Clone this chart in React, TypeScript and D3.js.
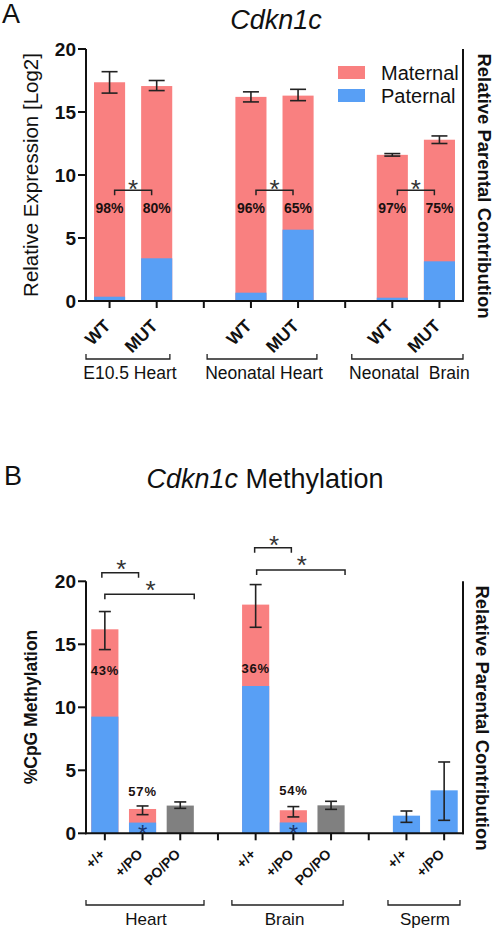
import React from "react";
import * as d3 from "d3";

// ---------- Panel A data ----------
const slotsA = ["WT-1", "MUT-1", "gap-1", "WT-2", "MUT-2", "gap-2", "WT-3", "MUT-3"];
const barSlotsA = ["WT-1", "MUT-1", "WT-2", "MUT-2", "WT-3", "MUT-3"];
const tickLabelsA = ["WT", "MUT", "WT", "MUT", "WT", "MUT"];
const totalA = [17.36, 17.06, 16.2, 16.3, 11.6, 12.8];
const paternalA = [0.34, 3.39, 0.66, 5.66, 0.26, 3.15];
const errHiA = [18.2, 17.5, 16.6, 16.8, 11.7, 13.1];
const errLoA = [16.5, 16.7, 15.8, 15.9, 11.5, 12.5];
const percentA = ["98%", "80%", "96%", "65%", "97%", "75%"];
const percentYA = [7.4, 7.4, 7.4, 7.4, 7.4, 7.4];
const groupsA = ["E10.5 Heart", "Neonatal Heart", "Neonatal  Brain"];
const groupSpanA: [number, number][] = [[-0.5, 1.28], [2.07, 4.4], [5.14, 7.5]];
const sigA = [
  { from: "WT-1", to: "MUT-1", level: 8.79 },
  { from: "WT-2", to: "MUT-2", level: 8.79 },
  { from: "WT-3", to: "MUT-3", level: 8.79 },
];
const yTicks = [0, 5, 10, 15, 20];
const legendItems = ["Maternal", "Paternal"];

// ---------- Panel B data ----------
const slotsB = ["H+/+", "H+/PO", "HPO/PO", "gap-1", "B+/+", "B+/PO", "BPO/PO", "gap-2", "S+/+", "S+/PO"];
const barSlotsB = ["H+/+", "H+/PO", "HPO/PO", "B+/+", "B+/PO", "BPO/PO", "S+/+", "S+/PO"];
const tickLabelsB = ["+/+", "+/PO", "PO/PO", "+/+", "+/PO", "PO/PO", "+/+", "+/PO"];
const barKindB = ["stack", "stack", "gray", "stack", "stack", "gray", "blue", "blue"];
const totalB = [16.19, 1.93, 2.2, 18.15, 1.83, 2.22, 1.4, 3.41];
const paternalB = [9.26, 0.85, 0, 11.69, 0.86, 0, 1.4, 3.41];
const errHiB = [17.6, 2.17, 2.49, 19.74, 2.12, 2.54, 1.77, 5.66];
const errLoB = [14.58, 1.48, 1.98, 16.35, 1.3, 1.9, 0.87, 1.03];
const percentB = [
  { slot: "H+/+", text: "43%", y: 12.96 },
  { slot: "H+/PO", text: "57%", y: 3.3 },
  { slot: "B+/+", text: "36%", y: 13.1 },
  { slot: "B+/PO", text: "54%", y: 3.38 },
];
const innerStarB = ["H+/PO", "B+/PO"];
const groupsB = ["Heart", "Brain", "Sperm"];
const groupSpanB: [number, number][] = [[-0.5, 2.63], [3.37, 6.32], [7.51, 9.42]];
const sigB = [
  { from: "H+/+", to: "H+/PO", level: 20.68, fromOff: -3, toOff: -4, star: 21.45 },
  { from: "H+/+", to: "HPO/PO", level: 18.97, fromOff: 0, toOff: 14, star: 19.79 },
  { from: "B+/+", to: "B+/PO", level: 22.67, fromOff: -1, toOff: -2, star: 23.38 },
  { from: "B+/+", to: "BPO/PO", level: 20.9, fromOff: 1, toOff: 14, star: 21.77 },
];

const PINK = "#F98080";
const BLUE = "#589FF5";
const GRAY = "#808080";
const INK = "#111";
const FONT = "'Liberation Sans', Arial, Helvetica, sans-serif";

const X0 = 86;
const X1 = 463;

function App() {
  // ---------------- Panel A scales ----------------
  const yA = d3.scaleLinear().domain([0, 20]).range([301, 49]);
  const xA = d3.scaleBand<string>().domain(slotsA).range([X0, X1]).paddingInner(0.34).paddingOuter(0.17);
  const xAL = d3.scaleLinear().domain([-0.5, slotsA.length - 0.5]).range([X0, X1]);
  const cA = (s: string) => (xA(s) as number) + xA.bandwidth() / 2;

  // ---------------- Panel B scales ----------------
  const yB = d3.scaleLinear().domain([0, 20]).range([833.3, 581.3]);
  const xB = d3.scaleBand<string>().domain(slotsB).range([X0, X1]).paddingInner(0.28).paddingOuter(0.14);
  const xBL = d3.scaleLinear().domain([-0.5, slotsB.length - 0.5]).range([X0, X1]);
  const cB = (s: string) => (xB(s) as number) + xB.bandwidth() / 2;

  const star = (x: number, yc: number, size: number, color: string, key: string) => (
    <text key={key} x={x} y={yc + size * 0.58} textAnchor="middle" fontSize={size} fill={color}>
      *
    </text>
  );

  return (
    <svg
      width={496}
      height={929}
      style={{ position: "absolute", left: 0, top: 0, background: "#fff" }}
      fontFamily={FONT}
    >
      <rect width={496} height={929} fill="#fff" />
      {/* ================= PANEL A ================= */}
      <text x={2} y={23} fontSize={27} fill={INK}>A</text>
      <text x={276} y={29} fontSize={27} fontStyle="italic" textAnchor="middle" fill={INK}>Cdkn1c</text>

      {/* bars */}
      {barSlotsA.map((s, i) => {
        const x = xA(s) as number;
        const w = xA.bandwidth();
        return (
          <g key={"ba" + i}>
            <rect x={x} y={yA(totalA[i])} width={w} height={yA(0) - yA(totalA[i])} fill={PINK} />
            <rect x={x} y={yA(paternalA[i])} width={w} height={yA(0) - yA(paternalA[i])} fill={BLUE} />
          </g>
        );
      })}
      {/* error bars */}
      {barSlotsA.map((s, i) => {
        const c = cA(s);
        return (
          <g key={"ea" + i} stroke="#222" strokeWidth={1.6}>
            <line x1={c} x2={c} y1={yA(errHiA[i])} y2={yA(errLoA[i])} />
            <line x1={c - 8} x2={c + 8} y1={yA(errHiA[i])} y2={yA(errHiA[i])} />
            <line x1={c - 8} x2={c + 8} y1={yA(errLoA[i])} y2={yA(errLoA[i])} />
          </g>
        );
      })}
      {/* percent labels */}
      {barSlotsA.map((s, i) => (
        <text key={"pa" + i} x={cA(s)} y={yA(percentYA[i]) + 5} textAnchor="middle" fontSize={14} fontWeight="bold" fill="#1a1010">
          {percentA[i]}
        </text>
      ))}
      {/* significance */}
      {sigA.map((b, i) => {
        const mid = (cA(b.from) + cA(b.to)) / 2;
        const x1 = mid - 18.5;
        const x2 = mid + 18.5;
        const y = yA(b.level);
        return (
          <g key={"sa" + i}>
            <path d={`M${x1},${y + 5}V${y}H${x2}V${y + 5}`} fill="none" stroke="#222" strokeWidth={1.5} />
            {star(mid, y - 7.5, 26, "#333", "sta" + i)}
          </g>
        );
      })}
      {/* axes */}
      <g stroke={INK} strokeWidth={2} fill="none">
        <line x1={X0} x2={X0} y1={yA(20)} y2={yA(0) + 1} />
        <line x1={X1} x2={X1} y1={yA(20)} y2={yA(0) + 1} />
        <line x1={X0 - 1} x2={X1 + 1} y1={yA(0)} y2={yA(0)} />
        {yTicks.map((t) => (
          <line key={"yta" + t} x1={X0 - 8} x2={X0} y1={yA(t)} y2={yA(t)} />
        ))}
        {slotsA.map((s) => (
          <line key={"xta" + s} x1={cA(s)} x2={cA(s)} y1={yA(0)} y2={yA(0) + 7} />
        ))}
      </g>
      {yTicks.map((t) => (
        <text key={"ylA" + t} x={X0 - 10} y={yA(t) + 6.5} textAnchor="end" fontSize={19} fontWeight="bold" fill={INK}>
          {t}
        </text>
      ))}
      {barSlotsA.map((s, i) => (
        <text
          key={"xlA" + i}
          transform={`translate(${cA(s) + 2},327) rotate(-45)`}
          textAnchor="end"
          fontSize={17.5}
          fontWeight="bold"
          fill={INK}
        >
          {tickLabelsA[i]}
        </text>
      ))}
      {/* group brackets */}
      {groupsA.map((g, i) => {
        const a = xAL(groupSpanA[i][0]);
        const b = xAL(groupSpanA[i][1]);
        return (
          <g key={"gA" + i}>
            <path d={`M${a},354V359H${b}V354`} fill="none" stroke="#222" strokeWidth={1.3} />
            <text x={(a + b) / 2 + 2} y={379} textAnchor="middle" fontSize={17.5} fill={INK} style={{ whiteSpace: "pre" }}>
              {g}
            </text>
          </g>
        );
      })}
      {/* titles */}
      <text transform="translate(38,175) rotate(-90)" textAnchor="middle" fontSize={20.5} fill={INK}>
        Relative Expression [Log2]
      </text>
      <text transform="translate(478,186) rotate(90)" textAnchor="middle" fontSize={18.5} fontWeight="bold" fill={INK}>
        Relative Parental Contribution
      </text>
      {/* legend */}
      {legendItems.map((l, i) => (
        <g key={"lg" + i}>
          <rect x={338} y={66 + i * 23} width={27} height={13} fill={i === 0 ? PINK : BLUE} />
          <text x={381} y={79.5 + i * 23} fontSize={20} fill={INK}>{l}</text>
        </g>
      ))}

      {/* ================= PANEL B ================= */}
      <text x={4} y={485} fontSize={27} fill={INK}>B</text>
      <text x={265} y={488} fontSize={27} textAnchor="middle" fill={INK}>
        <tspan fontStyle="italic">Cdkn1c</tspan> Methylation
      </text>

      {barSlotsB.map((s, i) => {
        const x = xB(s) as number;
        const w = xB.bandwidth();
        const k = barKindB[i];
        if (k === "gray") {
          return <rect key={"bb" + i} x={x} y={yB(totalB[i])} width={w} height={yB(0) - yB(totalB[i])} fill={GRAY} />;
        }
        if (k === "blue") {
          return <rect key={"bb" + i} x={x} y={yB(totalB[i])} width={w} height={yB(0) - yB(totalB[i])} fill={BLUE} />;
        }
        return (
          <g key={"bb" + i}>
            <rect x={x} y={yB(totalB[i])} width={w} height={yB(0) - yB(totalB[i])} fill={PINK} />
            <rect x={x} y={yB(paternalB[i])} width={w} height={yB(0) - yB(paternalB[i])} fill={BLUE} />
          </g>
        );
      })}
      {barSlotsB.map((s, i) => {
        const c = cB(s);
        return (
          <g key={"eb" + i} stroke="#222" strokeWidth={1.6}>
            <line x1={c} x2={c} y1={yB(errHiB[i])} y2={yB(errLoB[i])} />
            <line x1={c - 6} x2={c + 6} y1={yB(errHiB[i])} y2={yB(errHiB[i])} />
            <line x1={c - 6} x2={c + 6} y1={yB(errLoB[i])} y2={yB(errLoB[i])} />
          </g>
        );
      })}
      {percentB.map((p, i) => (
        <text key={"pb" + i} x={cB(p.slot)} y={yB(p.y) + 4.6} textAnchor="middle" fontSize={13} fontWeight="bold" letterSpacing={0.8} fill="#1a1010">
          {p.text}
        </text>
      ))}
      {innerStarB.map((s, i) => star(cB(s), 828, 24, "#1c3670", "isb" + i))}
      {sigB.map((b, i) => {
        const x1 = cB(b.from) + b.fromOff;
        const x2 = cB(b.to) + b.toOff;
        const y = yB(b.level);
        return (
          <g key={"sb" + i}>
            <path d={`M${x1},${y + 5}V${y}H${x2}V${y + 5}`} fill="none" stroke="#222" strokeWidth={1.5} />
            {star((x1 + x2) / 2 + 1, yB(b.star), 26, "#333", "stb" + i)}
          </g>
        );
      })}
      <g stroke={INK} strokeWidth={2} fill="none">
        <line x1={X0} x2={X0} y1={yB(20)} y2={yB(0) + 1} />
        <line x1={X1} x2={X1} y1={yB(20)} y2={yB(0) + 1} />
        <line x1={X0 - 1} x2={X1 + 1} y1={yB(0)} y2={yB(0)} />
        {yTicks.map((t) => (
          <line key={"ytb" + t} x1={X0 - 8} x2={X0} y1={yB(t)} y2={yB(t)} />
        ))}
        {slotsB.map((s) => (
          <line key={"xtb" + s} x1={cB(s)} x2={cB(s)} y1={yB(0)} y2={yB(0) + 7} />
        ))}
      </g>
      {yTicks.map((t) => (
        <text key={"ylB" + t} x={X0 - 10} y={yB(t) + 6.5} textAnchor="end" fontSize={19} fontWeight="bold" fill={INK}>
          {t}
        </text>
      ))}
      {barSlotsB.map((s, i) => (
        <text
          key={"xlB" + i}
          transform={`translate(${cB(s) + 1},855) rotate(-45)`}
          textAnchor="end"
          fontSize={14}
          fontWeight="bold"
          fill={INK}
        >
          {tickLabelsB[i]}
        </text>
      ))}
      {groupsB.map((g, i) => {
        const a = xBL(groupSpanB[i][0]);
        const b = xBL(groupSpanB[i][1]);
        return (
          <g key={"gB" + i}>
            <path d={`M${a},900V905H${b}V900`} fill="none" stroke="#222" strokeWidth={1.3} />
            <text x={(a + b) / 2 + (i === 1 ? -3 : 1)} y={925} textAnchor="middle" fontSize={17} fill={INK}>
              {g}
            </text>
          </g>
        );
      })}
      <text transform="translate(37,707) rotate(-90)" textAnchor="middle" fontSize={17.5} fontWeight="bold" fill={INK}>
        %CpG Methylation
      </text>
      <text transform="translate(476,718) rotate(90)" textAnchor="middle" fontSize={18.5} fontWeight="bold" fill={INK}>
        Relative Parental Contribution
      </text>
    </svg>
  );
}

export default App;
